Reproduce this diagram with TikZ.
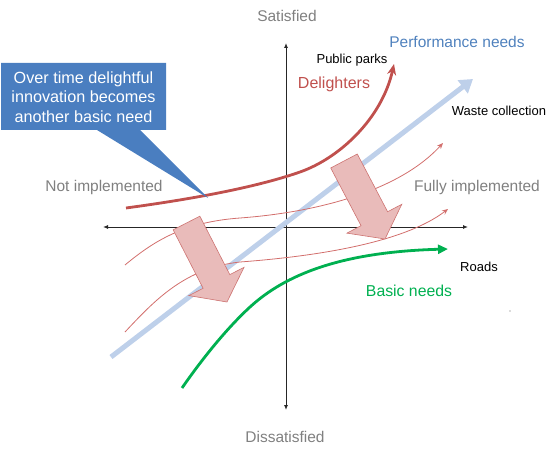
\documentclass[tikz,border=0pt]{standalone}
\usepackage{fontspec}
\setmainfont{Liberation Sans}
\usetikzlibrary{arrows.meta,calc}
\definecolor{axisgray}{RGB}{128,128,128}
\definecolor{perfblue}{RGB}{79,129,189}
\definecolor{perfline}{RGB}{190,208,234}
\definecolor{delired}{RGB}{192,80,77}
\definecolor{thinred}{RGB}{210,110,108}
\definecolor{basicgreen}{RGB}{0,176,80}
\definecolor{shiftpink}{RGB}{233,187,186}
\definecolor{calloutblue}{RGB}{74,126,192}

\newcommand{\shiftarrow}[2]{%
  \path (#1) -- (#2) coordinate[pos=0.74] (nk);
  \filldraw[shiftbox] ($(#1)!15pt!90:(#2)$) -- ($(nk)!15pt!90:(#2)$) -- ($(nk)!31pt!90:(#2)$) -- (#2)
    -- ($(nk)!31pt!-90:(#2)$) -- ($(nk)!15pt!-90:(#2)$) -- ($(#1)!15pt!-90:(#2)$) -- cycle;}

\begin{document}
\begin{tikzpicture}[x=1pt,y=-1pt,
    axislabel/.style={text=axisgray,font=\fontsize{15.5}{18}\selectfont},
    example/.style={text=black,font=\fontsize{13}{15}\selectfont},
    axisline/.style={line width=0.9pt,black!85,{Latex[length=5pt,width=4pt]}-{Latex[length=5pt,width=4pt]}},
    thincurve/.style={line width=0.8pt,thinred,-{Stealth[length=6pt,width=5pt]}},
    shiftbox/.style={fill=shiftpink,draw=delired!80,line width=0.6pt}
  ]
  \useasboundingbox (0,0) rectangle (555,452);

  % Axes
  \coordinate (xl) at (103,227);
  \coordinate (xr) at (468,227);
  \coordinate (yt) at (286,43);
  \coordinate (yb) at (286,410);
  \draw[axisline] (xl) -- (xr);
  \draw[axisline] (yb) -- (yt);

  % Axis labels
  \node[axislabel] (sat) at (287,16) {Satisfied};
  \node[axislabel] (dis) at (285,437) {Dissatisfied};
  \node[axislabel] (notimp) at (104,187) {Not implemented};
  \node[axislabel] (fullimp) at (477,187) {Fully implemented};

  % Performance needs
  \coordinate (pstart) at (111,357);
  \coordinate (pend) at (473,79);
  \draw[line width=5pt,perfline,-{Triangle[length=13pt,width=16pt]}] (pstart) -- (pend);

  % Thin curves (shifting needs)
  \draw[thincurve] (125,265) .. controls (155,240) and (185,222) .. (240,218)
    .. controls (320,212) and (400,190) .. (443,143);
  \draw[thincurve] (125,332) .. controls (155,300) and (185,268) .. (240,262)
    .. controls (320,256) and (405,242) .. (448,209);

  % Delighters
  \draw[line width=2.8pt,delired,-{Stealth[length=11pt,width=9pt]}] (126,208) .. controls (200,198) and (260,186) .. (300,172)
    .. controls (340,158) and (382,118) .. (394,64);

  % Basic needs
  \draw[line width=2.8pt,basicgreen,-{Triangle[length=10pt,width=9pt]}] (182,388) .. controls (200,362) and (225,330) .. (250,307)
    .. controls (285,275) and (340,252) .. (448,249);

  % Shift arrows
  \coordinate (s1t) at (186.5,223);
  \coordinate (s1h) at (227,302);
  \coordinate (s2t) at (344,161);
  \coordinate (s2h) at (385,239);
  \shiftarrow{s1t}{s1h}
  \shiftarrow{s2t}{s2h}

  % Curve labels
  \node[text=perfblue,font=\fontsize{15.5}{18}\selectfont] (perf) at (457,42) {Performance needs};
  \node[text=delired,font=\fontsize{16}{18}\selectfont] (deli) at (334,84) {Delighters};
  \node[text=basicgreen,font=\fontsize{15.8}{18}\selectfont] (basic) at (409,291) {Basic needs};
  \node[example] (parks) at (352,60) {Public parks};
  \node[example] (waste) at (499,111) {Waste collection};
  \node[example] (roads) at (479,267) {Roads};

  % Callout
  \coordinate (ctip) at (208,198);
  \fill[calloutblue] (1,63) -- (166,63) -- (166,130) -- (140,130) -- (ctip) -- (97,130) -- (1,130) -- cycle;
  \node[text=white,align=center,font=\fontsize{16.2}{19.5}\selectfont] (callout) at (83.5,97) {Over time delightful\\innovation becomes\\another basic need};

  \fill[black!60] (510,311) circle (0.6);
\end{tikzpicture}
\end{document}
